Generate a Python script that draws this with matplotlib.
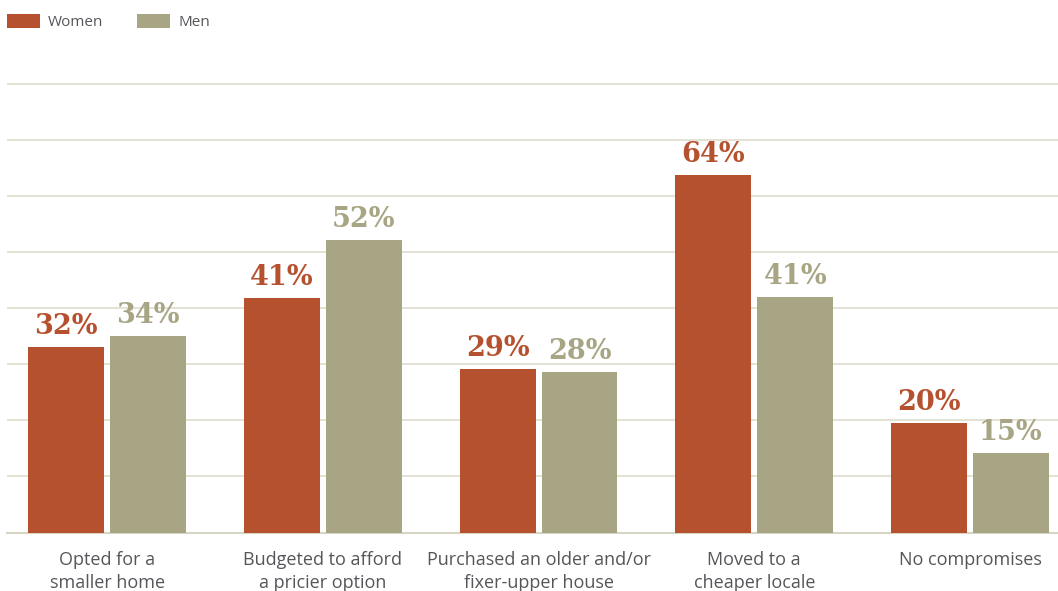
import matplotlib.pyplot as plt
import numpy as np

# Datos (alturas, etiquetas tal como aparecen)
categorias = ["Opted for a\nsmaller home", "Budgeted to afford\na pricier option",
              "Purchased an older and/or\nfixer-upper house", "Moved to a\ncheaper locale",
              "No compromises"]
mujeres = [33.1, 41.9, 29.2, 63.8, 19.6]
hombres = [35.1, 52.2, 28.7, 42.1, 14.2]
etiquetas_mujeres = ["32%", "41%", "29%", "64%", "20%"]
etiquetas_hombres = ["34%", "52%", "28%", "41%", "15%"]

color_mujeres = '#B6512F'
color_hombres = '#A8A585'
color_grid = '#DEDDCC'
color_texto = '#58555A'

fig = plt.figure(figsize=(10.58, 5.91), dpi=100)
ax = fig.add_axes([7 / 1058, 1 - 532.5 / 591, 1051 / 1058, (532.5 - 62) / 591])

x = np.arange(len(categorias))
ancho = 0.352
b1 = ax.bar(x - 0.19, mujeres, ancho, color=color_mujeres, label='Women', zorder=3)
b2 = ax.bar(x + 0.19, hombres, ancho, color=color_hombres, label='Men', zorder=3)

# Etiquetas de valor
for barras, textos, c in [(b1, etiquetas_mujeres, color_mujeres),
                          (b2, etiquetas_hombres, color_hombres)]:
    for b, t in zip(barras, textos):
        ax.annotate(t, (b.get_x() + b.get_width() / 2, b.get_height()), xytext=(0, 5),
                    textcoords='offset points', ha='center', va='bottom',
                    fontsize=19.5, fontweight='bold', color=c, family='DejaVu Serif')

ax.set_xlim(-0.464, 4.408)
ax.set_ylim(0, 84)
ax.set_yticks(np.arange(10, 81, 10))
ax.yaxis.grid(True, color=color_grid, linewidth=1.2, zorder=0)
ax.tick_params(axis='y', left=False, labelleft=False)
ax.set_xticks(x)
ax.set_xticklabels(categorias, fontsize=13, color=color_texto, family='Open Sans',
                   linespacing=1.4)
ax.tick_params(axis='x', length=0, pad=13)
for s in ['top', 'right', 'left']:
    ax.spines[s].set_visible(False)
ax.spines['bottom'].set_color('#D6D5C4')
ax.spines['bottom'].set_linewidth(1.5)

fig.legend(handles=[b1, b2], loc='upper left', bbox_to_anchor=(7 / 1058, 1 - 14 / 591),
           ncol=2, frameon=False, handlelength=2.16, handleheight=1.05,
           columnspacing=2.25, handletextpad=0.5, borderaxespad=0, borderpad=0,
           prop={'family': 'Open Sans', 'size': 11}, labelcolor=color_texto)

fig.savefig('out.png', dpi=100)
